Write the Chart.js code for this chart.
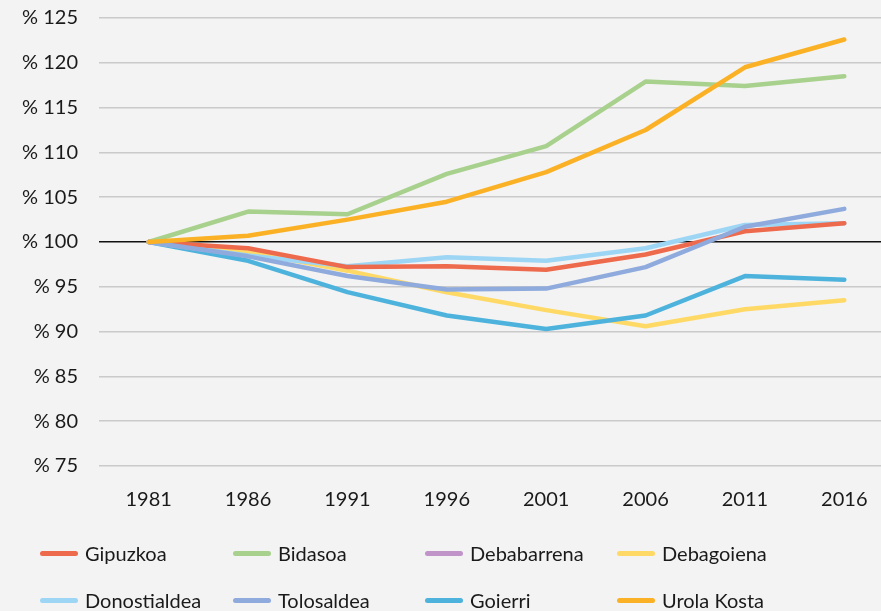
<!DOCTYPE html>
<html>
<head>
<meta charset="utf-8">
<script src="https://cdn.jsdelivr.net/npm/chart.js@4"></script>
<style>
html, body { margin: 0; padding: 0; overflow: hidden; background: #f3f3f3; width: 881px; height: 611px; }
#wrap { position: absolute; left: 0; top: -15px; width: 900px; height: 541px; }
#legend { position: absolute; left: 0; top: 0; width: 881px; height: 611px; pointer-events: none; font-family: Lato, 'Open Sans', sans-serif; font-size: 20px; color: #1a1a1a; }
.item { position: absolute; display: flex; align-items: center; height: 26px; }
.sw { width: 38px; height: 5px; border-radius: 3px; margin-right: 7px; }
</style>
</head>
<body>
<div id="wrap"><canvas id="c"></canvas></div>
<div id="legend"></div>
<script>
const years = ['1981', '1986', '1991', '1996', '2001', '2006', '2011', '2016'];
const seriesNames = ['Gipuzkoa', 'Bidasoa', 'Debabarrena', 'Debagoiena', 'Donostialdea', 'Tolosaldea', 'Goierri', 'Urola Kosta'];
const gipuzkoa     = [100, 99.3, 97.2, 97.3, 96.9, 98.6, 101.2, 102.1];
const bidasoa      = [100, 103.4, 103.1, 107.6, 110.7, 117.9, 117.4, 118.5];
const debabarrena  = [null, null, null, null, null, null, null, null];
const debagoiena   = [100, 98.9, 96.8, 94.4, 92.4, 90.6, 92.5, 93.5];
const donostialdea = [100, 98.5, 97.3, 98.3, 97.9, 99.3, 101.9, 102.1];
const tolosaldea   = [100, 98.4, 96.2, 94.7, 94.8, 97.2, 101.7, 103.7];
const goierri      = [100, 97.9, 94.4, 91.8, 90.3, 91.8, 96.2, 95.8];
const urolaKosta   = [100, 100.7, 102.5, 104.5, 107.8, 112.5, 119.5, 122.6];
const yMin = 75, yMax = 125, yStep = 5, baseline = 100;

const values = [gipuzkoa, bidasoa, debabarrena, debagoiena, donostialdea, tolosaldea, goierri, urolaKosta];
const colors = ['#ee6a4d', '#a8d18d', '#c094c8', '#ffd966', '#9dd5f5', '#8faadc', '#4eb3dc', '#fbb125'];
const drawOrder = [2, 6, 7, 5, 3, 1, 4, 0];

const FONT = "Lato, 'Open Sans', sans-serif";

const datasets = seriesNames.map((n, i) => ({
  label: n,
  data: values[i],
  borderColor: colors[i],
  backgroundColor: colors[i],
  borderWidth: 4.5,
  borderCapStyle: 'round',
  borderJoinStyle: 'round',
  pointRadius: 0,
  tension: 0,
  fill: false,
  order: drawOrder[i]
}));

const chart = new Chart(document.getElementById('c'), {
  type: 'line',
  data: { labels: years, datasets },
  options: {
    responsive: true,
    maintainAspectRatio: false,
    animation: false,
    layout: { padding: { top: 2, right: 6, left: 0, bottom: 0 } },
    plugins: { legend: { display: false }, tooltip: { enabled: false } },
    scales: {
      x: {
        type: 'category',
        offset: true,
        grid: { display: false, drawTicks: false },
        border: { display: false },
        ticks: { font: { family: FONT, size: 20 }, color: '#1a1a1a', padding: 22, maxRotation: 0 },
        afterFit: s => { s.height = 60; }
      },
      y: {
        min: yMin, max: yMax,
        grid: {
          drawTicks: false,
          color: ctx => ctx.tick && ctx.tick.value === baseline ? '#111111' : '#cacaca',
          lineWidth: 1.5
        },
        border: { display: false },
        ticks: {
          stepSize: yStep,
          font: { family: FONT, size: 20 },
          color: '#1a1a1a',
          padding: 21,
          callback: v => '% ' + v
        },
        afterFit: s => { s.width = 99; }
      }
    }
  }
});

// HTML legend built from the datasets
const legend = document.getElementById('legend');
const colX = [40, 233, 425, 617];
const rowY = [540, 587];
seriesNames.forEach((n, i) => {
  const d = document.createElement('div');
  d.className = 'item';
  d.style.left = colX[i % 4] + 'px';
  d.style.top = rowY[Math.floor(i / 4)] + 'px';
  const sw = document.createElement('span');
  sw.className = 'sw';
  sw.style.background = colors[i];
  const t = document.createElement('span');
  t.textContent = n;
  d.appendChild(sw);
  d.appendChild(t);
  legend.appendChild(d);
});
</script>
</body>
</html>
